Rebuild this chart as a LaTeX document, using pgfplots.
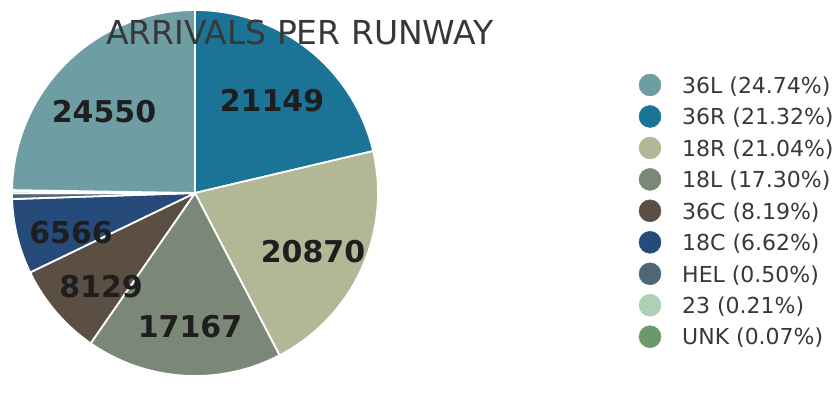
\documentclass[border=0pt]{standalone}
\usepackage{pgfplots}
\usepackage{pgfplotstable}
\usepackage{fontspec}
\setmainfont{DejaVu Sans}
\pgfplotsset{compat=1.18}

\definecolor{c36L}{HTML}{6E9EA4}
\definecolor{c36R}{HTML}{1B7396}
\definecolor{c18R}{HTML}{B2B795}
\definecolor{c18L}{HTML}{7B8777}
\definecolor{c36C}{HTML}{5B4E42}
\definecolor{c18C}{HTML}{264A7A}
\definecolor{cHEL}{HTML}{4F6676}
\definecolor{c23}{HTML}{AED1B3}
\definecolor{cUNK}{HTML}{6A9A6C}
\definecolor{lbl}{HTML}{1E1E1E}
\definecolor{txt}{HTML}{383838}

% slices in clockwise order from 12 o'clock
\pgfplotstableread{
name value color
36R 21149 c36R
18R 20870 c18R
18L 17167 c18L
36C 8129 c36C
18C 6566 c18C
HEL 496 cHEL
23 208 c23
UNK 69 cUNK
36L 24550 c36L
}\runways

\gdef\total{0}
\pgfplotstableforeachcolumnelement{value}\of\runways\as\v{%
  \xdef\total{\fpeval{\total+\v}}}

\pgfplotsset{legdot/.style={only marks, mark=*, mark size=11pt,
  mark options={draw=#1, fill=#1}}}

\begin{document}
\begin{tikzpicture}
\begin{axis}[
  x=1pt, y=1pt,
  xmin=0, xmax=835, ymin=0, ymax=405,
  hide axis, clip=false, scale only axis]

  \gdef\angA{90}
  \pgfplotsforeachungrouped \i in {0,...,8}{%
    \pgfplotstablegetelem{\i}{value}\of\runways \let\v\pgfplotsretval
    \pgfplotstablegetelem{\i}{color}\of\runways \let\c\pgfplotsretval
    \edef\angB{\fpeval{round(\angA-360*\v/\total,4)}}
    \edef\tmp{\noexpand\addplot[fill=\c, draw=white, line width=1.8pt, line join=round,
      domain=\angB:\angA, samples=60]
      ({195+183*cos(x)},{212+183*sin(x)}) -- (axis cs:195,212) -- cycle;}
    \tmp
    \global\let\angA\angB
  }

  % slice labels
  \begin{scope}[every node/.style={anchor=base, text=lbl, font=\fontsize{30}{30}\selectfont\bfseries}]
    \node at (axis cs:104,282) {24550};
    \node at (axis cs:272,293) {21149};
    \node at (axis cs:313,143) {20870};
    \node at (axis cs:190,68) {17167};
    \node at (axis cs:101,108) {8129};
    \node at (axis cs:71,162) {6566};
  \end{scope}

  % title
  \node[anchor=base, text=txt, font=\fontsize{33}{33}\selectfont] at (axis cs:300,360) {ARRIVALS PER RUNWAY};

  % legend
  \addplot[legdot=c36L] coordinates {(650,320)};
  \addplot[legdot=c36R] coordinates {(650,288.5)};
  \addplot[legdot=c18R] coordinates {(650,257)};
  \addplot[legdot=c18L] coordinates {(650,225.6)};
  \addplot[legdot=c36C] coordinates {(650,194.2)};
  \addplot[legdot=c18C] coordinates {(650,162.7)};
  \addplot[legdot=cHEL] coordinates {(650,131.2)};
  \addplot[legdot=c23] coordinates {(650,99.8)};
  \addplot[legdot=cUNK] coordinates {(650,68.3)};

  \begin{scope}[every node/.style={anchor=base west, text=txt, inner sep=0pt, font=\fontsize{22}{22}\selectfont}]
    \node at (axis cs:682,311.8) {36L (24.74\%)};
    \node at (axis cs:682,280.3) {36R (21.32\%)};
    \node at (axis cs:682,248.8) {18R (21.04\%)};
    \node at (axis cs:682,217.4) {18L (17.30\%)};
    \node at (axis cs:682,186.0) {36C (8.19\%)};
    \node at (axis cs:682,154.5) {18C (6.62\%)};
    \node at (axis cs:682,123.0) {HEL (0.50\%)};
    \node at (axis cs:682,91.6) {23 (0.21\%)};
    \node at (axis cs:682,60.1) {UNK (0.07\%)};
  \end{scope}
\end{axis}
\pgfresetboundingbox
\path[use as bounding box] (0,0) rectangle (835pt,405pt);
\end{tikzpicture}
\end{document}
